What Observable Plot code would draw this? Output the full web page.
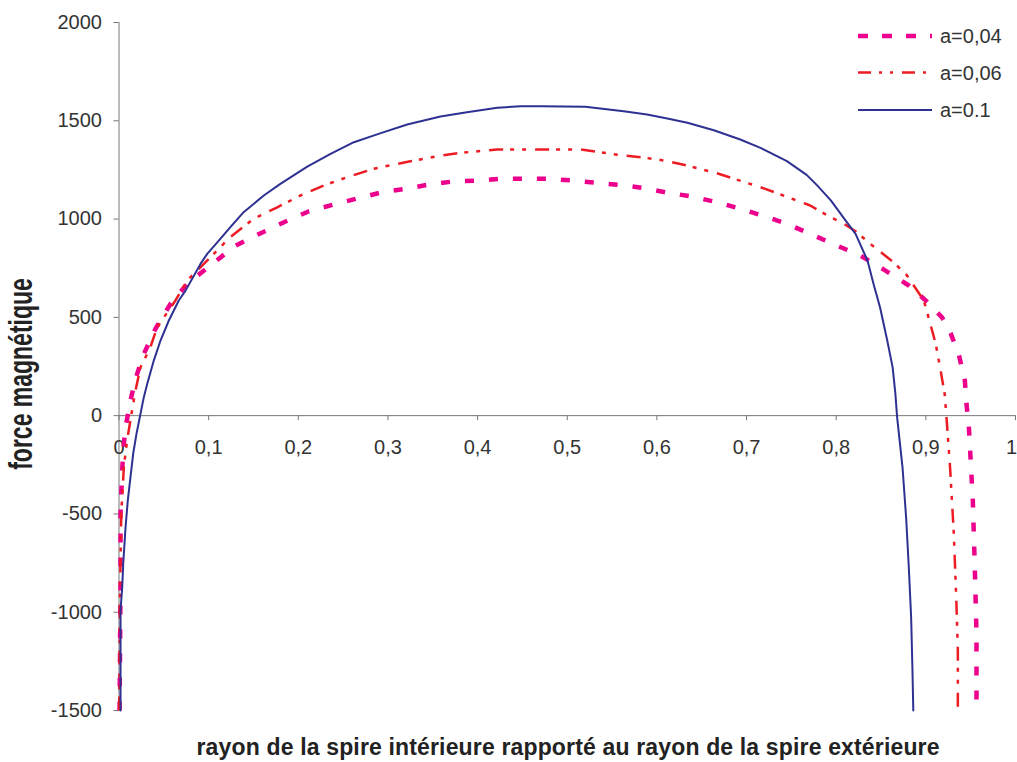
<!DOCTYPE html>
<html><head><meta charset="utf-8">
<script src="https://cdn.jsdelivr.net/npm/d3@7"></script>
<script src="https://cdn.jsdelivr.net/npm/@observablehq/plot@0.6"></script>
<style>
html,body{margin:0;padding:0;background:#fff;}
#chart{position:relative;width:1017px;height:762px;}
</style></head><body><div id="chart"></div>
<script>
// ---- data ----
const seriesNames = ["a=0,04", "a=0,06", "a=0.1"];
const xTitle = "rayon de la spire intérieure rapporté au rayon de la spire extérieure";
const yTitle = "force magnétique";
const xTicks = [0, 0.1, 0.2, 0.3, 0.4, 0.5, 0.6, 0.7, 0.8, 0.9, 1];
const yTicks = [-1500, -1000, -500, 0, 500, 1000, 1500, 2000];

const x04 = [0.0006, 0.0017, 0.0017, 0.0035, 0.0054, 0.008, 0.0128, 0.0184, 0.0277, 0.0407, 0.0574, 0.076, 0.104, 0.130, 0.158, 0.184, 0.212, 0.238, 0.264, 0.294, 0.320, 0.346, 0.374, 0.400, 0.426, 0.453, 0.479, 0.506, 0.533, 0.559, 0.587, 0.613, 0.639, 0.667, 0.693, 0.721, 0.747, 0.773, 0.801, 0.827, 0.855, 0.881, 0.900, 0.918, 0.928, 0.937, 0.9435, 0.9453, 0.948, 0.9524, 0.9546, 0.9565, 0.9565];
const y04 = [-1500, -873, -500, -279, -143, -42, 77, 187, 314, 442, 568, 670, 772, 865, 928, 984, 1040, 1072, 1103, 1137, 1154, 1176, 1192, 1196, 1205, 1205, 1205, 1196, 1184, 1174, 1157, 1133, 1115, 1086, 1052, 1013, 972, 921, 865, 814, 738, 662, 585, 500, 416, 306, 179, 60, -59, -432, -771, -1110, -1500];

const x06 = [0.0002, 0.001, 0.0025, 0.0054, 0.009, 0.0136, 0.0184, 0.024, 0.035, 0.0426, 0.063, 0.076, 0.102, 0.124, 0.150, 0.1765, 0.2025, 0.2285, 0.2545, 0.284, 0.325, 0.359, 0.381, 0.422, 0.470, 0.515, 0.533, 0.563, 0.582, 0.608, 0.634, 0.667, 0.686, 0.7155, 0.738, 0.771, 0.794, 0.8085, 0.8216, 0.838, 0.864, 0.879, 0.8977, 0.905, 0.911, 0.9165, 0.921, 0.923, 0.927, 0.9312, 0.934, 0.9357, 0.9357];
const y06 = [-1500, -941, -500, -262, -127, 0, 128, 246, 348, 450, 586, 687, 806, 908, 1001, 1060, 1120, 1171, 1213, 1256, 1294, 1323, 1337, 1354, 1354, 1354, 1342, 1323, 1315, 1298, 1272, 1233, 1205, 1162, 1125, 1069, 1009, 976, 938, 874, 780, 713, 586, 467, 365, 229, 111, -8, -262, -601, -941, -1195, -1500];

const x10 = [0.0017, 0.0017, 0.0036, 0.0047, 0.0073, 0.0098, 0.0128, 0.0158, 0.0195, 0.0232, 0.0277, 0.0315, 0.0388, 0.0463, 0.0556, 0.0667, 0.0742, 0.0909, 0.0984, 0.113, 0.124, 0.139, 0.1615, 0.180, 0.210, 0.236, 0.262, 0.292, 0.3215, 0.3586, 0.388, 0.422, 0.448, 0.470, 0.520, 0.563, 0.589, 0.6115, 0.634, 0.6635, 0.693, 0.7155, 0.745, 0.767, 0.779, 0.794, 0.8085, 0.8216, 0.835, 0.8416, 0.849, 0.857, 0.863, 0.866, 0.868, 0.874, 0.878, 0.881, 0.8836, 0.885, 0.886];
const y10 = [-1500, -991, -873, -754, -568, -432, -313, -194, -93, -8, 94, 162, 280, 382, 484, 586, 636, 772, 823, 899, 958, 1035, 1120, 1179, 1267, 1332, 1391, 1437, 1481, 1522, 1543, 1566, 1574, 1574, 1572, 1549, 1532, 1512, 1490, 1452, 1405, 1362, 1295, 1225, 1170, 1095, 1005, 925, 788, 671, 549, 381, 244, 112, -10, -264, -519, -773, -1027, -1282, -1500];

// ---- styles ----
const colors = ["#EC008C", "#ED1C24", "#2E3192"];
const dashes = ["9,15", "14,7,4,8,4,9", "none"];
const widths = [4.5, 2.5, 2];
const caps = ["butt", "butt", "round"];

const cols = [[x04, y04], [x06, y06], [x10, y10]];
const tables = cols.map(([xs, ys], k) => xs.map((x, i) => ({series: seriesNames[k], x, y: ys[i]})));

const W = 1017, H = 762, mB = 52;
const chart = Plot.plot({
  width: W, height: H,
  marginLeft: 118.5, marginRight: 2, marginTop: 22, marginBottom: mB,
  style: {fontFamily: "'Liberation Sans', Arial, sans-serif", fontSize: "20px", background: "#fff", color: "#333"},
  x: {domain: [0, 1], label: null},
  y: {domain: [-1500, 2000], label: null},
  marks: [
    Plot.ruleX([0], {stroke: "#777", strokeWidth: 1}),
    Plot.ruleY([0], {stroke: "#777", strokeWidth: 1}),
    Plot.axisY(yTicks, {anchor: "left", tickSize: 5, tickPadding: 12, stroke: "#777", fill: "#333", label: null, tickFormat: d => String(d)}),
    Plot.axisX(xTicks, {anchor: "bottom", tickSize: 5, tickPadding: 19, stroke: "#777", fill: "#333", label: null, tickFormat: d => String(d).replace(".", ",")}),
    ...tables.map((t, k) => Plot.line(t, {x: "x", y: "y", stroke: colors[k], strokeWidth: widths[k], strokeDasharray: dashes[k], strokeLinecap: caps[k], strokeLinejoin: "round"}))
  ]
});

// move x axis to y = 0 (computed from the y scale)
const yScale = chart.scale("y");
const shift = yScale.apply(0) - (H - mB);
chart.querySelectorAll('g[aria-label^="x-axis"]').forEach(g => {
  const t = g.getAttribute("transform") || "";
  g.setAttribute("transform", `translate(0,${shift}) ${t}`);
});
// keep the last tick label ("1") inside the picture, as in the reference
const xLabels = chart.querySelectorAll('g[aria-label="x-axis tick label"] text');
if (xLabels.length) xLabels[xLabels.length - 1].setAttribute("dx", "-4");

const svg = d3.select(chart);
// axis titles
svg.append("text")
  .attr("x", 568).attr("y", 755)
  .attr("text-anchor", "middle")
  .attr("font-weight", "bold").attr("font-size", 23).attr("fill", "#222")
  .attr("textLength", 743).attr("lengthAdjust", "spacing")
  .text(xTitle);
svg.append("text")
  .attr("transform", "translate(32,374) scale(1.45,1) rotate(-90)")
  .attr("text-anchor", "middle")
  .attr("font-weight", "bold").attr("font-size", 23).attr("fill", "#222")
  .text(yTitle);

// legend
const legendRows = [36, 72.5, 110];
const lg = svg.append("g").attr("aria-label", "legend");
seriesNames.forEach((name, k) => {
  lg.append("line")
    .attr("x1", 858).attr("x2", 932).attr("y1", legendRows[k]).attr("y2", legendRows[k])
    .attr("stroke", colors[k]).attr("stroke-width", widths[k])
    .attr("stroke-dasharray", k === 0 ? "10,14" : k === 1 ? "13,8,3,8,3,9" : "none")
    .attr("stroke-linecap", "butt");
  lg.append("text")
    .attr("x", 940).attr("y", legendRows[k]).attr("dy", "0.35em")
    .attr("text-anchor", "start")
    .attr("font-size", 20).attr("fill", "#333")
    .text(name);
});

document.getElementById("chart").appendChild(chart);
</script>
</body></html>
